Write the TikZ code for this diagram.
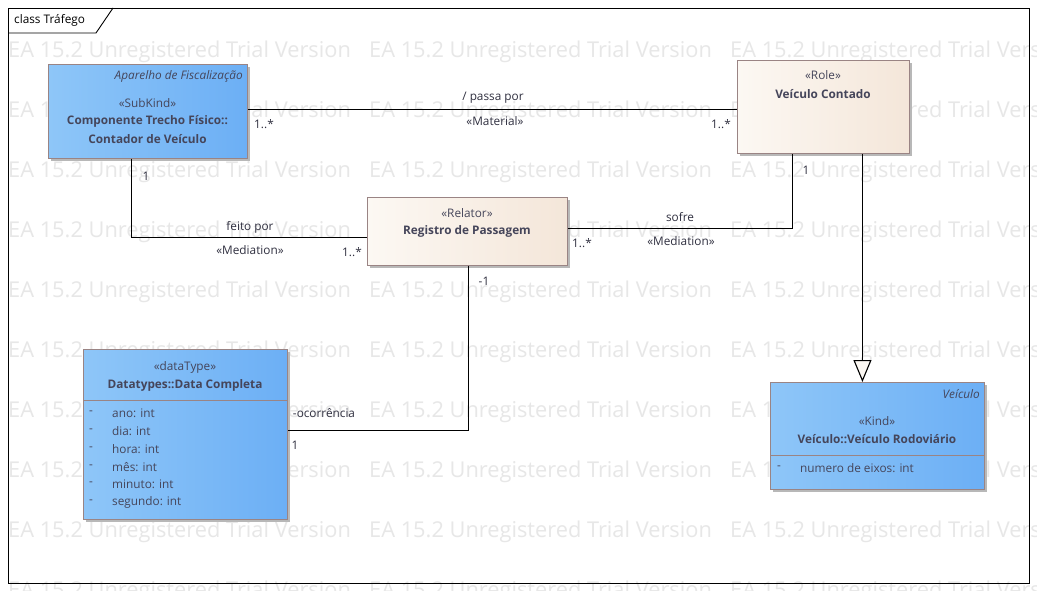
\documentclass[tikz,border=0pt]{standalone}
\usepackage{fontspec}
\setmainfont{Open Sans}
\usetikzlibrary{arrows.meta,shadows,calc}
\definecolor{blueL}{HTML}{8EC6F8}
\definecolor{blueR}{HTML}{6CAFF5}
\definecolor{creamL}{HTML}{FCF8F3}
\definecolor{creamR}{HTML}{F4E6D9}
\definecolor{boxborder}{HTML}{9A8484}
\definecolor{txt}{HTML}{45455A}
\definecolor{lbl}{HTML}{303040}
\definecolor{wmc}{HTML}{E7E7E7}
\tikzset{
  boxbase/.style={draw=boxborder, line width=0.9pt, inner sep=0pt, anchor=north west,
    drop shadow={shadow xshift=3pt, shadow yshift=-3pt, fill=black!28, opacity=1}},
  bluebox/.style={boxbase, left color=blueL, right color=blueR},
  creambox/.style={boxbase, left color=creamL, right color=creamR},
  stereo/.style={font=\fontsize{11.8}{13}\selectfont, text=txt, inner sep=0pt},
  title/.style={font=\fontsize{11.8}{13}\selectfont\bfseries, text=txt, inner sep=0pt},
  pkg/.style={font=\fontsize{11.8}{13}\selectfont\itshape, text=txt, inner sep=0pt, anchor=east},
  attr/.style={font=\fontsize{11.8}{13}\selectfont, text=txt, inner sep=0pt, anchor=west},
  lab/.style={font=\fontsize{11.8}{13}\selectfont, text=lbl, inner sep=0pt},
  wm/.style={font=\fontsize{21.8}{24}\selectfont, text=wmc, inner sep=0pt, anchor=west},
  conn/.style={draw=black, line width=1.1pt},
}
\begin{document}
\begin{tikzpicture}[x=1pt,y=-1pt]
\useasboundingbox (0,0) rectangle (1037,591);
\fill[white] (0,0) rectangle (1037,591);
% watermark
\begin{scope}
\clip (0,0) rectangle (1037,591);
\foreach \yy in {52,112,172,232,292,352,412,472,532,592}{
  \foreach \k in {0,1,2}{
    \node[wm] (wm-\yy-\k) at ({8+361*\k},\yy) {EA 15.2 Unregistered Trial Version};
  }
}
\end{scope}
% frame
\draw[line width=0.9pt] (8,8) rectangle (1029,583);
\draw[line width=0.9pt] (8,33) -- (96,33) -- (113,8);
\node[anchor=west, inner sep=0pt, font=\fontsize{11.8}{13}\selectfont] (frametitle) at (14,20) {class Tráfego};

% boxes
\node[bluebox, minimum width=199pt, minimum height=94pt] (comp) at (48,64) {};
\node[pkg] (comp-pkg) at (243,76) {Aparelho de Fiscalização};
\node[stereo] (comp-st) at (147.5,103) {«SubKind»};
\node[title] (comp-t1) at (147.5,121) {Componente Trecho Físico::};
\node[title] (comp-t2) at (147.5,139) {Contador de Veículo};

\node[creambox, minimum width=172pt, minimum height=93pt] (role) at (737,60) {};
\node[stereo] (role-st) at (823,75) {«Role»};
\node[title] (role-t) at (823,94) {Veículo Contado};

\node[creambox, minimum width=200pt, minimum height=68pt] (reg) at (367,197) {};
\node[stereo] (reg-st) at (467,213) {«Relator»};
\node[title] (reg-t) at (467,231) {Registro de Passagem};

\node[bluebox, minimum width=204pt, minimum height=170pt] (dt) at (83,349) {};
\node[stereo] (dt-st) at (185,367) {«dataType»};
\node[title] (dt-t) at (185,385) {Datatypes::Data Completa};
\draw[draw=boxborder, line width=0.9pt] (dt.west |- 0,400) -- (dt.east |- 0,400);
\foreach \yy/\nm [count=\i] in {413/ano: int, 431/dia: int, 449/hora: int, 467/mês: int, 484/minuto: int, 502/segundo: int}{
  \node[attr] (dt-d\i) at (89,\yy) {-};
  \node[attr] (dt-a\i) at (112,\yy) {\nm};
}

\node[bluebox, minimum width=214pt, minimum height=107pt] (rodo) at (770,382) {};
\node[pkg] (rodo-pkg) at (980,394) {Veículo};
\node[stereo] (rodo-st) at (877,421) {«Kind»};
\node[title] (rodo-t) at (877,439) {Veículo::Veículo Rodoviário};
\draw[draw=boxborder, line width=0.9pt] (rodo.west |- 0,455) -- (rodo.east |- 0,455);
\node[attr] (rodo-d1) at (777,468) {-};
\node[attr] (rodo-a1) at (800,468) {numero de eixos: int};

% connectors
\draw[conn] ([yshift=2pt]comp.east) -- ([yshift=2pt]comp.east -| role.west);
\node[lab] (l-passa) at (493,98) {/ passa por};
\node[lab] (l-mat) at (495,121) {«Material»};
\node[lab] (m-1) at (264,124) {1..*};
\node[lab] (m-2) at (721,124) {1..*};

\draw[conn] ([xshift=-16.5pt]comp.south) |- ([yshift=-6pt]reg.west);
\node[lab] (m-3) at (146,176) {1};
\node[lab] (l-feito) at (250,227) {feito por};
\node[lab] (l-med1) at (250,250) {«Mediation»};
\node[lab] (m-4) at (352,252) {1..*};

\draw[conn] ([yshift=3pt]reg.east) -| ([xshift=-31pt]role.south);
\node[lab] (m-5) at (806,170) {1};
\node[lab] (l-sofre) at (680,217) {sofre};
\node[lab] (l-med2) at (681,241) {«Mediation»};
\node[lab] (m-6) at (582,243) {1..*};

\draw[conn] ([xshift=1pt]reg.south) |- ([yshift=4pt]dt.east);
\node[lab] (m-7) at (484,281) {-1};
\node[lab] (l-oc) at (324,413) {-ocorrência};
\node[lab] (m-8) at (295,445) {1};

\draw[conn, -{Triangle[open, length=22pt, width=18pt, fill=creamL, line width=1.1pt]}]
  ([xshift=39pt]role.south) -- ([xshift=39pt]role.south |- rodo.north);
\end{tikzpicture}
\end{document}
